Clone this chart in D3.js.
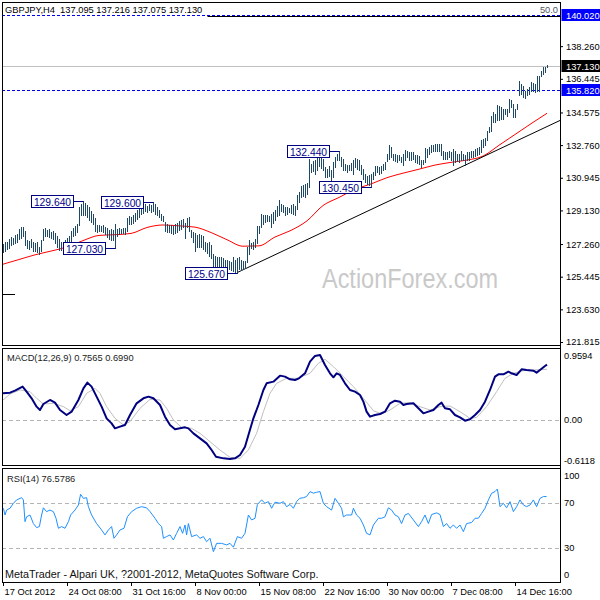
<!DOCTYPE html>
<html><head><meta charset="utf-8">
<script src="https://cdn.jsdelivr.net/npm/d3@7"></script>
<style>
html,body{margin:0;padding:0;background:#fff;}
svg{display:block;font-family:"Liberation Sans",Arial,sans-serif;}
</style></head><body>
<svg id="c" width="600" height="600"></svg>
<script>
// ---------- DATA ----------
const symbolTitle = "GBPJPY,H4  137.095 137.216 137.075 137.130";
const highs = [
127.29,127.35,127.40,127.55,127.66,127.60,127.75,127.84,128.10,128.20,
128.22,128.00,127.50,127.45,127.55,127.40,127.30,127.35,127.10,127.50,
128.12,128.15,128.05,128.10,127.95,128.00,127.85,127.70,127.55,127.40,
127.40,127.50,127.60,127.70,128.00,128.15,128.25,128.40,129.30,129.50,
129.64,129.55,129.42,129.30,129.10,128.95,128.72,128.30,128.32,128.28,
128.30,128.20,128.15,128.05,128.10,128.05,128.40,128.10,128.15,128.12,
128.15,128.15,128.70,128.80,128.78,128.90,129.00,129.14,129.30,129.45,
129.35,129.48,129.40,129.50,129.45,129.60,129.50,129.30,129.15,128.95,
128.80,128.48,128.35,128.32,128.30,128.25,128.35,128.42,128.55,128.62,
128.68,128.45,128.70,128.75,128.05,127.95,127.90,127.75,127.80,127.78,
127.70,127.40,127.30,127.35,127.20,126.73,126.60,126.55,126.56,126.55,
126.50,126.40,126.36,126.30,126.28,126.55,126.40,126.50,126.55,126.38,
126.30,126.30,127.10,127.47,127.30,127.40,127.56,128.25,128.25,128.95,
128.85,128.87,128.85,128.80,128.95,129.05,129.14,129.40,129.70,129.50,
129.45,129.32,129.30,129.25,129.45,129.50,129.40,130.00,130.15,130.50,
130.55,130.60,130.65,132.00,131.72,131.85,131.91,132.10,132.30,132.37,
132.00,131.54,131.45,131.60,131.40,131.80,132.09,132.28,132.44,132.10,
132.00,131.72,131.65,131.65,131.75,131.95,132.05,132.00,131.91,131.65,
131.45,131.17,131.05,131.10,131.17,131.26,131.58,131.58,131.56,131.60,
131.72,131.80,132.28,132.74,132.65,132.28,132.25,132.20,132.22,132.09,
132.28,132.50,132.46,132.40,132.37,132.37,132.20,132.22,132.15,131.91,
131.91,132.60,132.55,132.65,132.74,132.74,132.80,132.83,132.83,132.83,
132.46,132.40,132.37,132.46,132.37,132.55,132.42,132.28,132.28,132.46,
132.28,132.22,132.37,132.37,132.42,132.46,132.55,132.60,132.65,133.02,
133.10,133.15,133.57,133.76,134.40,134.60,134.50,135.00,134.96,134.87,
134.78,134.78,134.78,135.33,135.28,135.05,134.78,135.05,136.35,136.16,
136.07,135.79,135.88,135.98,136.25,136.20,136.16,136.60,136.62,136.90,
137.10,137.08,137.216];
const lows = [
126.83,126.90,127.00,127.05,127.20,127.25,127.30,127.40,127.55,127.60,
127.70,127.20,127.05,127.00,127.10,126.90,126.85,126.80,126.73,126.90,
127.47,127.70,127.72,127.65,127.60,127.55,127.30,127.10,126.95,126.92,
126.90,127.00,127.10,127.30,127.45,127.70,127.75,127.95,128.30,128.85,
128.90,128.87,128.77,128.60,128.50,128.40,127.98,127.95,127.97,128.00,
127.92,127.80,127.66,127.55,127.50,127.50,127.03,127.70,127.84,127.86,
127.85,127.84,128.00,128.35,128.40,128.45,128.55,128.68,128.77,128.95,
129.00,129.10,129.05,129.15,129.05,129.10,128.95,128.85,128.75,128.62,
128.55,128.00,127.95,127.92,127.90,127.82,127.90,127.95,128.05,128.12,
128.20,127.60,128.20,128.00,127.65,127.40,126.85,127.10,127.10,127.10,
127.00,126.85,126.78,126.60,126.50,126.00,125.99,126.00,126.02,125.98,
126.00,125.95,125.90,125.85,125.82,125.75,125.72,125.67,125.85,125.82,
125.85,125.95,126.25,126.73,127.05,127.00,127.10,127.30,127.85,128.21,
128.40,128.50,128.55,128.55,128.20,128.45,128.58,128.80,128.87,129.10,
129.05,128.87,128.95,129.05,129.00,128.95,128.87,129.20,129.60,129.87,
129.95,129.90,130.06,130.43,131.25,131.30,131.17,131.35,131.60,131.50,
131.40,131.00,131.00,131.05,130.80,131.00,131.54,131.91,131.91,131.60,
131.35,131.35,131.26,131.35,131.40,131.17,131.54,131.45,131.35,131.17,
130.90,130.70,130.61,130.55,130.45,130.90,131.08,131.26,131.17,131.22,
131.35,131.45,131.85,132.00,132.09,131.91,131.85,131.82,131.91,131.82,
131.63,131.91,132.09,131.95,131.91,131.99,131.82,131.75,131.72,131.54,
131.72,131.80,132.09,132.25,132.37,132.46,132.46,132.46,132.46,132.20,
132.00,132.00,132.00,132.09,131.91,131.63,131.82,131.85,131.82,131.91,
131.91,131.63,131.91,131.95,132.09,132.09,132.15,132.20,132.28,132.37,
132.65,132.74,133.02,133.48,133.57,134.05,134.05,134.13,134.13,134.22,
134.22,134.50,134.40,134.60,134.87,134.31,134.31,134.78,135.52,135.61,
135.42,135.38,135.52,135.61,135.79,135.79,135.70,135.79,135.79,136.62,
136.72,136.80,137.075];
// moving average (red), one value every 8 bars
const maStep = 8;
const maVals = [126.14,126.40,126.66,126.87,127.10,127.45,127.74,127.78,127.85,128.18,
128.32,128.27,128.20,127.90,127.50,127.14,127.16,127.65,128.02,128.55,129.40,129.85,
130.30,130.60,130.95,131.20,131.42,131.65,131.80,131.93,132.15,132.75,133.35,133.95,134.53];
// trend line anchors [bar, price]
const trendLine = [[117,125.67],[278.5,134.13]];
const leftStub = [[-0.5,124.48],[6,124.48]];
// horizontal levels
const blueLevels = [140.02, 135.82];
const bidPrice = 137.13;
const fibPrice = 139.95, fibStartBar = 102, fibText = "50.0";
// swing labels
const swingBars   = [40, 75, 56, 117, 168, 184];
const swingPrices = [129.64, 129.60, 127.03, 125.67, 132.44, 130.45];
const swingTexts  = ["129.640","129.600","127.030","125.670","132.440","130.450"];
// price axis
const priceTicks = [138.26,136.445,134.575,132.76,130.945,129.13,127.26,125.445,123.63,121.815];
const tagPrices = [140.02, 137.13, 135.82];
const tagTexts  = ["140.020","137.130","135.820"];
const tagColors = ["#0000ff","#000000","#0000ff"];
// time axis
const timeBars = [0,32,64,96,128,160,192,224,256];
const timeLabels = ["17 Oct 2012","24 Oct 08:00","31 Oct 16:00","8 Nov 00:00","15 Nov 08:00",
"22 Nov 16:00","30 Nov 00:00","7 Dec 08:00","14 Dec 16:00"];
// MACD [bar, value]
const macdTitle = "MACD(12,26,9) 0.7565 0.6990";
const macdMain = [[0,0.40],[3.5,0.41],[6,0.44],[9.8,0.50],[11.8,0.425],[14.3,0.325],[16.8,0.20],[18.5,0.15],
[20.2,0.24],[23.5,0.30],[26,0.26],[28.5,0.15],[31.8,0.075],[34.3,0.125],[37.7,0.30],[40.2,0.475],[42.2,0.56],
[44.3,0.50],[46.8,0.35],[49.3,0.20],[51.8,0.025],[54.3,-0.05],[56,-0.125],[58.5,-0.10],[61,-0.075],[63.5,0.075],
[66.8,0.25],[70.2,0.325],[72.7,0.35],[75.2,0.325],[78.5,0.225],[81,0.05],[83.5,-0.075],[86,-0.14],[88.5,-0.125],
[91,-0.11],[92.7,-0.125],[95.2,-0.20],[98.5,-0.275],[101.8,-0.35],[104.3,-0.45],[106.5,-0.55],[110.2,-0.575],
[113.5,-0.585],[116,-0.575],[118.5,-0.525],[121,-0.40],[123.2,-0.175],[125.2,0.025],[127.7,0.225],[130.2,0.45],
[131.8,0.55],[135.2,0.575],[138.5,0.665],[141,0.65],[143.5,0.61],[146,0.60],[148,0.625],[151,0.70],[153.5,0.875],
[156,0.96],[158.5,0.975],[161,0.825],[163.5,0.70],[165.2,0.64],[166.8,0.70],[168.5,0.675],[171,0.55],[173.5,0.45],
[176,0.425],[178.5,0.375],[180.2,0.275],[181.8,0.125],[183.5,0.05],[186,0.075],[188.5,0.09],[191,0.125],
[193.5,0.25],[196,0.29],[198.5,0.275],[200.2,0.225],[201.8,0.24],[205.2,0.25],[207.7,0.175],[210.2,0.10],
[212.7,0.125],[215.2,0.15],[217.7,0.225],[219.3,0.26],[221,0.175],[223.5,0.16],[226,0.075],[228.5,0.04],
[231,-0.01],[233.5,0.01],[236,0.075],[238.5,0.15],[241,0.275],[243.5,0.45],[246,0.65],[247.7,0.685],[250.2,0.685],
[252.7,0.725],[254.3,0.70],[256.8,0.675],[259.3,0.76],[261.8,0.75],[265.2,0.74],[266.8,0.71],[268.5,0.75],
[271,0.81],[272,0.83]];
const macdSignal = [[0,0.30],[3.5,0.39],[8.5,0.45],[13.5,0.425],[16.8,0.325],[20.2,0.24],[25.2,0.25],[30.2,0.20],
[33.5,0.14],[37.7,0.20],[41.8,0.40],[46,0.475],[48.5,0.40],[51.8,0.20],[56,0.025],[60.2,-0.075],[63.5,-0.025],
[68.5,0.175],[73.5,0.31],[78.5,0.30],[81.8,0.175],[85.2,0.0],[89.3,-0.11],[94.3,-0.125],[98.5,-0.20],[103.5,-0.325],
[108.5,-0.45],[113.5,-0.56],[118.5,-0.575],[122.7,-0.45],[126.8,-0.20],[130.2,0.125],[133.5,0.40],[136.8,0.55],
[141.8,0.625],[146.8,0.625],[148.5,0.64],[153.5,0.70],[157.7,0.85],[161,0.91],[165.2,0.80],[170.2,0.65],
[175.2,0.50],[180.2,0.325],[185.2,0.14],[189.3,0.09],[193.5,0.15],[198.5,0.25],[203.5,0.26],[208.5,0.20],
[213.5,0.15],[218.5,0.20],[223.5,0.21],[228.5,0.125],[233.5,0.025],[236.8,0.04],[241.8,0.20],[246.8,0.425],
[251,0.625],[255.2,0.70],[260.2,0.74],[265.2,0.75],[272,0.76]];
const macdTicks = [0.9594, 0, -0.6118];
// RSI [bar, value]
const rsiTitle = "RSI(14) 76.5786";
const rsiPts = [[0.2,65.6],[1,59.6],[1.8,64],[3.5,65.6],[5.2,70],[6.8,73],[9.3,75],[10.2,73],[11,53.7],[11.8,58],
[13.5,59.6],[15.2,52],[16.8,48.4],[18.2,49.3],[19.3,59.6],[20.2,66],[21.8,62.6],[23.5,64],[25.2,62.6],[26.5,56.7],
[27.7,47.8],[29.3,49.3],[31,47.8],[32.7,53.7],[33.8,59.6],[36,64],[37.7,68.5],[38.8,78],[40.2,74.4],[41.8,75],
[42.7,67],[44.3,59.6],[46.8,52],[49.3,46.3],[51,41.9],[52.7,46.3],[54.3,49.3],[55.5,38.9],[56.8,41.9],[58.5,46.3],
[60.5,47.8],[62.2,58],[64.3,62.6],[66.8,65.6],[69.3,67],[71.8,66],[73.5,62.6],[76,56.7],[77.7,52],[79.3,49.3],
[80.2,38.9],[81.8,40.4],[83.5,41.9],[85.2,37.4],[86.8,43.3],[88.5,49.3],[89.8,43.3],[91,50.7],[91.8,41.9],
[92.7,52],[94.3,40.4],[96.8,41.9],[98.5,38.9],[100.2,40.4],[101.8,35.9],[103.5,38.9],[105.2,27],[106.8,34.4],
[109.3,34.4],[111.8,33],[113.5,34.4],[115.2,31],[117.2,40.4],[119.3,38.9],[121,43.3],[122.7,59.6],[124.3,55.2],
[126,56.7],[127.2,69],[129.3,73],[131,70],[132.7,71.5],[134.3,65.6],[136,71],[138.5,70],[140.2,71.5],[141.8,67],
[143.5,69],[145.2,65.6],[146.8,71.5],[148.3,74.4],[150.2,75],[151.8,76],[153.5,80.4],[155.2,79],[156.8,79.8],
[158.5,80.4],[160.2,70],[161.8,67],[164.3,64],[166,74.4],[167.7,70],[169.3,65.6],[170.2,58],[171.8,59.6],
[174.3,59.6],[175.2,65.6],[176.8,59.6],[178.5,56.7],[180.2,50.7],[181.8,43.3],[183.5,41.9],[185.2,50.7],
[187.7,56.7],[189.3,56.7],[191,58],[192.7,66],[194.3,64],[196,59.6],[197.7,58],[199.3,52],[201,59.6],[202.7,61],
[205.2,55.2],[207.7,49.3],[209.3,53.7],[211,59.6],[212.7,52],[214.3,60],[216.8,61.5],[218.5,60],[220.2,49.3],
[221.8,52],[223.5,47.8],[225.2,50.7],[226.8,47.8],[228.5,50.7],[230.2,44.8],[231.8,52],[234.3,52.9],[236,56.7],
[237.7,56.7],[239.3,61],[241,65.6],[242.7,73],[244.3,78.9],[246,80.4],[247.2,82.7],[248.5,67],[250.2,70],
[251.8,66],[253.5,71.5],[255.2,62.6],[256.8,67],[258.5,73],[260.2,68.5],[261.8,67],[263.5,68.5],[265.2,73],
[266.8,67],[268.5,74.4],[270.2,76],[271.8,76]];
const rsiLevels = [70, 30];
const rsiTicks = [100, 70, 30, 0];
const copyright = "MetaTrader - Alpari UK, ?2001-2012, MetaQuotes Software Corp.";
const watermark = "ActionForex.com";

// ---------- LAYOUT ----------
const L = 2, R = 560;
const panels = {main:[2,345], macd:[348,465], rsi:[468,582]};
const svg = d3.select("#c");
svg.append("rect").attr("width",600).attr("height",600).attr("fill","#fff");

const x = d3.scaleLinear().domain([0,272]).range([3,547]);
const px = i => Math.round(x(i)) + 0.5;
const y  = d3.scaleLinear().domain([121.815,140.02]).range([342,14.5]);
const ym = d3.scaleLinear().domain([0,0.9594]).range([420,356]);
const yr = d3.scaleLinear().domain([30,70]).range([548.3,503.3]);

const defs = svg.append("defs");
Object.entries(panels).forEach(([k,[t,b]])=>{
  defs.append("clipPath").attr("id","clip-"+k).append("rect")
    .attr("x",L+1).attr("y",t+1).attr("width",R-L-1).attr("height",b-t-1);
});
const gMain = svg.append("g").attr("clip-path","url(#clip-main)");
const gMacd = svg.append("g").attr("clip-path","url(#clip-macd)");
const gRsi  = svg.append("g").attr("clip-path","url(#clip-rsi)");
const crisp = v => Math.round(v)+0.5;

// ---------- MAIN PANEL ----------
// watermark
gMain.append("text").attr("x",322).attr("y",288).text(watermark)
  .attr("font-size",27).attr("fill","#c9c9c9").attr("textLength",176).attr("lengthAdjust","spacingAndGlyphs");
// levels
gMain.selectAll("line.blue").data(blueLevels).join("line")
  .attr("x1",L).attr("x2",R).attr("y1",d=>crisp(y(d))).attr("y2",d=>crisp(y(d)))
  .attr("stroke","#0000ee").attr("stroke-dasharray","3,2");
gMain.append("line").attr("x1",px(fibStartBar)).attr("x2",R)
  .attr("y1",crisp(y(fibPrice))).attr("y2",crisp(y(fibPrice))).attr("stroke","#000");
gMain.append("line").attr("x1",L).attr("x2",R)
  .attr("y1",crisp(y(bidPrice))).attr("y2",crisp(y(bidPrice))).attr("stroke","#c0c0c0");
// MA
const maPts = maVals.map((v,k)=>[k*maStep,v]);
gMain.append("path").datum(maPts)
  .attr("d",d3.line().x(d=>x(d[0])).y(d=>y(d[1])).curve(d3.curveMonotoneX))
  .attr("fill","none").attr("stroke","#ff0000").attr("stroke-width",1);
// trend line
gMain.append("path").datum(trendLine).attr("d",d3.line().x(d=>x(d[0])).y(d=>y(d[1])))
  .attr("fill","none").attr("stroke","#000").attr("stroke-width",1);
gMain.append("path").datum(leftStub).attr("d",d3.line().x(d=>x(d[0])).y(d=>crisp(y(d[1]))))
  .attr("fill","none").attr("stroke","#000");
// bars
const bars = highs.map((h,i)=>({i,h,l:lows[i]}));
gMain.selectAll("line.bar").data(bars).join("line")
  .attr("x1",d=>px(d.i)).attr("x2",d=>px(d.i))
  .attr("y1",d=>Math.round(y(d.h))).attr("y2",d=>Math.round(y(d.l))+1)
  .attr("stroke","#1d4866").attr("stroke-width",1);
// swing labels
swingBars.forEach((b,k)=>{
  const yy = crisp(y(swingPrices[k]));
  const right = Math.round(x(b)) - 10, left = right - 42;
  gMain.append("line").attr("x1",right).attr("x2",px(b)).attr("y1",yy).attr("y2",yy).attr("stroke","#000080");
  gMain.append("rect").attr("x",left+0.5).attr("y",yy-6).attr("width",42).attr("height",12)
    .attr("fill","#fff").attr("stroke","#000080");
  gMain.append("text").attr("x",left+21.5).attr("y",yy+4).attr("text-anchor","middle")
    .attr("font-size",10.3).attr("fill","#00008b").text(swingTexts[k]);
});
// fib text
svg.append("text").attr("x",558).attr("y",12.5).attr("text-anchor","end")
  .attr("font-size",9.3).attr("fill","#555566").text(fibText);
// header
svg.append("text").attr("x",5).attr("y",12.5).attr("font-size",9.3).attr("fill","#000")
  .style("white-space","pre").text(symbolTitle);

// ---------- MACD ----------
gMacd.append("line").attr("x1",L).attr("x2",R).attr("y1",crisp(ym(0))).attr("y2",crisp(ym(0)))
  .attr("stroke","#b4b4b4").attr("stroke-dasharray","4,3");
gMacd.append("path").datum(macdSignal).attr("d",d3.line().x(d=>x(d[0])).y(d=>ym(d[1])))
  .attr("fill","none").attr("stroke","#c0c0c0").attr("stroke-width",1);
gMacd.append("path").datum(macdMain).attr("d",d3.line().x(d=>x(d[0])).y(d=>ym(d[1])))
  .attr("fill","none").attr("stroke","#000080").attr("stroke-width",2).attr("stroke-linejoin","round");
svg.append("text").attr("x",7).attr("y",361).attr("font-size",9.3).attr("fill","#222").text(macdTitle);

// ---------- RSI ----------
gRsi.selectAll("line.lvl").data(rsiLevels).join("line")
  .attr("x1",L).attr("x2",R).attr("y1",d=>crisp(yr(d))).attr("y2",d=>crisp(yr(d)))
  .attr("stroke","#b4b4b4").attr("stroke-dasharray","4,3");
gRsi.append("path").datum(rsiPts).attr("d",d3.line().x(d=>x(d[0])).y(d=>yr(d[1])))
  .attr("fill","none").attr("stroke","#1e90ff").attr("stroke-width",1);
svg.append("text").attr("x",7).attr("y",482).attr("font-size",9.3).attr("fill","#222").text(rsiTitle);
svg.append("text").attr("x",5).attr("y",578).attr("font-size",10.8).attr("fill","#111").text(copyright);

// ---------- FRAMES ----------
Object.values(panels).forEach(([t,b])=>{
  svg.append("rect").attr("x",L+0.5).attr("y",t+0.5).attr("width",R-L).attr("height",b-t)
    .attr("fill","none").attr("stroke","#000");
});
svg.append("line").attr("x1",R+0.5).attr("x2",R+0.5).attr("y1",2).attr("y2",582.5).attr("stroke","#000");

// ---------- AXES ----------
const styleAxis = g => { g.select(".domain").remove();
  g.selectAll("text").attr("font-size",9.3).attr("fill","#000").attr("font-family",'"Liberation Sans",Arial,sans-serif');
  g.selectAll("line").attr("stroke","#000"); };
svg.append("g").attr("transform",`translate(${R},0)`)
  .call(d3.axisRight(y).tickValues(priceTicks).tickFormat(d3.format(".3f")).tickSize(3).tickPadding(3))
  .call(styleAxis);
// price tags
tagPrices.forEach((p,k)=>{
  const yy = Math.round(y(p));
  svg.append("rect").attr("x",R+1.5).attr("y",yy-6).attr("width",600-R-1.5).attr("height",12).attr("fill",tagColors[k]);
  svg.append("text").attr("x",566).attr("y",yy+3.5).attr("font-size",9.3).attr("fill","#fff").text(tagTexts[k]);
});
svg.append("g").attr("transform",`translate(${R},0)`)
  .call(d3.axisRight(ym).tickValues(macdTicks).tickFormat(d=>d===0?"0.00":d.toFixed(4)).tickSize(0).tickPadding(4))
  .call(styleAxis);
const rsiAxis = svg.append("g").attr("transform",`translate(${R},0)`)
  .call(d3.axisRight(yr).tickValues(rsiTicks).tickFormat(d3.format("d")).tickSize(0).tickPadding(4))
  .call(styleAxis);
rsiAxis.selectAll(".tick").attr("transform",d=>{
  const v = Math.max(panels.rsi[0]+8, Math.min(panels.rsi[1]-7, yr(d)));
  return `translate(0,${v})`;
});
const tAxis = svg.append("g").attr("transform",`translate(0,582)`)
  .call(d3.axisBottom(x).tickValues(timeBars).tickFormat((d,k)=>timeLabels[k]).tickSize(4).tickPadding(2))
  .call(styleAxis);
tAxis.selectAll("text").attr("text-anchor","start").attr("dx",1);
</script>
</body></html>
